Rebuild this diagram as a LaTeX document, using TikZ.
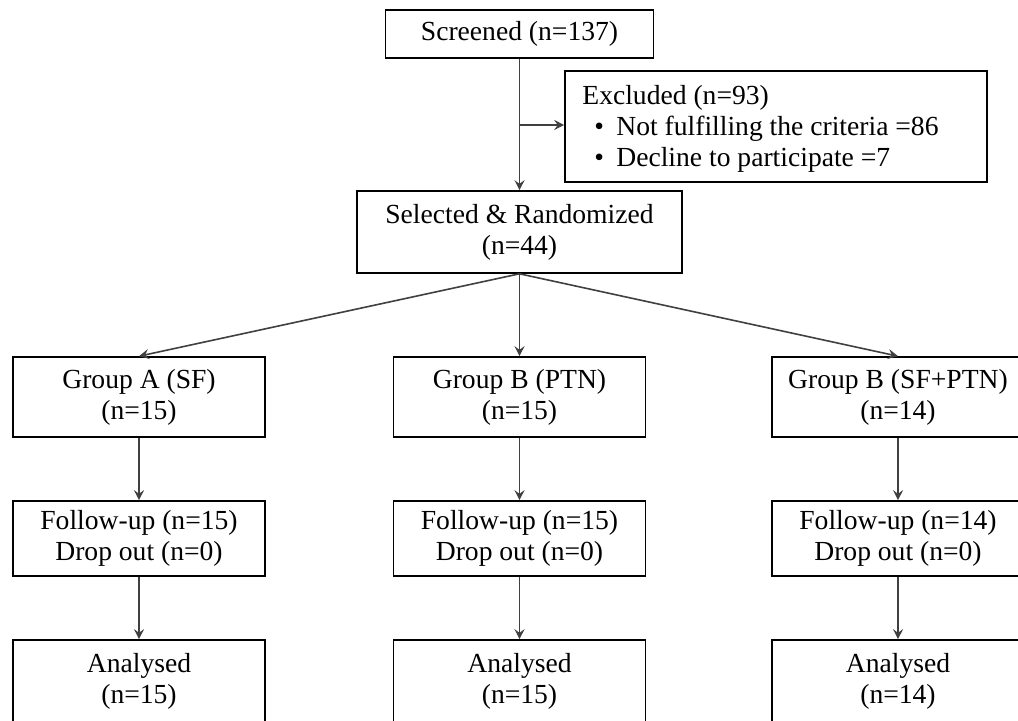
\documentclass[tikz,border=0pt]{standalone}
\usepackage{fontspec}
\setmainfont{Liberation Serif}
\usetikzlibrary{arrows.meta}
\begin{document}
\begin{tikzpicture}[x=0.5pt,y=-0.5pt,
  lbl/.style={font=\fontsize{13.8pt}{15.5pt}\selectfont},
  box/.style={lbl,draw=black,line width=0.8pt,align=center,inner sep=0pt},
  conn/.style={draw=black!75,line width=0.8pt,-{Stealth[length=5pt,width=5pt,inset=1.8pt]}},
  txt/.style={lbl,align=left,inner sep=0pt}]
\useasboundingbox (0,0) rectangle (1018,721);
\clip (0,0) rectangle (1018,721);
% top part
\node[box,minimum width=134pt,minimum height=24pt] (scr) at (519.5,34) {Screened (n=137)};
\node[box,minimum width=211pt,minimum height=55.5pt] (exc) at (776,126.5) {};
\node[txt,anchor=west] (exct) at (582,129) {Excluded (n=93)\\
  \hspace*{6pt}\makebox[11pt][l]{\textbullet}Not fulfilling the criteria =86\\
  \hspace*{6pt}\makebox[11pt][l]{\textbullet}Decline to participate =7};
\node[box,minimum width=162.5pt,minimum height=41pt] (sel) at (519.5,232) {Selected \& Randomized\\(n=44)};
% groups
\node[box,minimum width=126pt,minimum height=40pt] (ga) at (139,397) {Group A (SF)\\(n=15)};
\node[box,minimum width=126pt,minimum height=40pt] (gb) at (519.5,397) {Group B (PTN)\\(n=15)};
\node[box,minimum width=126pt,minimum height=40pt] (gc) at (898,397) {Group B (SF+PTN)\\(n=14)};
% follow-up
\node[box,minimum width=126pt,minimum height=37.5pt] (fa) at (139,538.5) {Follow-up (n=15)\\Drop out (n=0)};
\node[box,minimum width=126pt,minimum height=37.5pt] (fb) at (519.5,538.5) {Follow-up (n=15)\\Drop out (n=0)};
\node[box,minimum width=126pt,minimum height=37.5pt] (fc) at (898,538.5) {Follow-up (n=14)\\Drop out (n=0)};
% analysed
\node[box,minimum width=126pt,minimum height=41pt] (aa) at (139,681) {Analysed\\(n=15)};
\node[box,minimum width=126pt,minimum height=41pt] (ab) at (519.5,681) {Analysed\\(n=15)};
\node[box,minimum width=126pt,minimum height=41pt] (ac) at (898,681) {Analysed\\(n=14)};
% connectors
\coordinate (br) at (519.5,125);
\draw[conn] (scr.south) -- (sel.north);
\draw[conn] (br) -- (exc.west |- br);
\draw[conn] (sel.south) -- (ga.north);
\draw[conn] (sel.south) -- (gb.north);
\draw[conn] (sel.south) -- (gc.north);
\draw[conn] (ga.south) -- (fa.north);
\draw[conn] (gb.south) -- (fb.north);
\draw[conn] (gc.south) -- (fc.north);
\draw[conn] (fa.south) -- (aa.north);
\draw[conn] (fb.south) -- (ab.north);
\draw[conn] (fc.south) -- (ac.north);
\end{tikzpicture}
\end{document}
